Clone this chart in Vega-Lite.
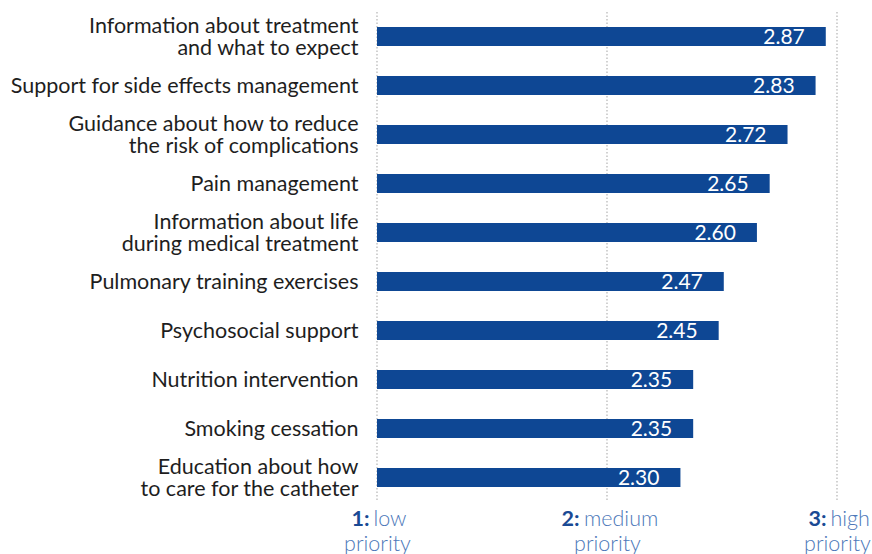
{
  "$schema": "https://vega.github.io/schema/vega-lite/v6.json",
  "width": 460,
  "height": 490,
  "autosize": {"type": "none"},
  "padding": {"left": 377, "top": 12, "right": 35, "bottom": 52},
  "config": {"view": {"stroke": null}, "font": "Lato"},
  "datasets": {
    "levels": [
      {"level": 1, "word": "low"},
      {"level": 2, "word": "medium"},
      {"level": 3, "word": "high"}
    ],
    "items": [
      {"label": "Information about treatment\nand what to expect", "score": 2.87},
      {"label": "Support for side effects management", "score": 2.83},
      {"label": "Guidance about how to reduce\nthe risk of complications", "score": 2.72},
      {"label": "Pain management", "score": 2.65},
      {"label": "Information about life\nduring medical treatment", "score": 2.60},
      {"label": "Pulmonary training exercises", "score": 2.47},
      {"label": "Psychosocial support", "score": 2.45},
      {"label": "Nutrition intervention", "score": 2.35},
      {"label": "Smoking cessation", "score": 2.35},
      {"label": "Education about how\nto care for the catheter", "score": 2.30}
    ]
  },
  "layer": [
    {
      "data": {"name": "levels"},
      "mark": {"type": "rule", "color": "#b4b4b4", "strokeDash": [1.5, 2], "strokeWidth": 1.2},
      "encoding": {
        "x": {
          "field": "level", "type": "quantitative",
          "scale": {"domain": [1, 3], "nice": false, "zero": false},
          "axis": {
            "orient": "bottom", "values": [1, 2, 3], "ticks": false, "domain": false, "grid": false,
            "title": null, "labelExpr": "datum.value + ':'",
            "labelFont": "Lato", "labelFontSize": 21.5, "labelFontWeight": "bold", "labelColor": "#1a4a94",
            "labelAlign": "right", "labelBaseline": "top", "labelPadding": 6, "tickSize": 0,
            "labelOffset": {"condition": [{"test": "datum.value == 1", "value": -8}, {"test": "datum.value == 2", "value": -28}], "value": -11},
            "labelFlush": false, "labelOverlap": false, "labelBound": false
          }
        }
      }
    },
    {
      "data": {"name": "levels"},
      "mark": {"type": "rule", "opacity": 0},
      "encoding": {
        "x": {
          "field": "level", "type": "quantitative",
          "scale": {"domain": [1, 3], "nice": false, "zero": false},
          "axis": {
            "orient": "bottom", "values": [1, 2, 3], "ticks": false, "domain": false, "grid": false,
            "title": null,
            "labelExpr": "datum.value == 1 ? 'low' : datum.value == 2 ? 'medium' : 'high'",
            "labelFont": "Lato", "labelFontSize": 21.5, "labelFontWeight": 300, "labelColor": "#4d78b9",
            "labelAlign": "left", "labelBaseline": "top", "labelPadding": 6, "tickSize": 0,
            "labelOffset": {"condition": [{"test": "datum.value == 1", "value": -4}, {"test": "datum.value == 2", "value": -23.5}], "value": -7},
            "labelFlush": false, "labelOverlap": false, "labelBound": false
          }
        }
      }
    },
    {
      "data": {"name": "levels"},
      "mark": {"type": "rule", "opacity": 0},
      "encoding": {
        "x": {
          "field": "level", "type": "quantitative",
          "scale": {"domain": [1, 3], "nice": false, "zero": false},
          "axis": {
            "orient": "bottom", "values": [1, 2, 3], "ticks": false, "domain": false, "grid": false,
            "title": null,
            "labelExpr": "'priority'",
            "labelFont": "Lato", "labelFontSize": 21.5, "labelFontWeight": 300, "labelColor": "#4d78b9",
            "labelAlign": "center", "labelBaseline": "top", "labelPadding": 31, "tickSize": 0,
            "labelFlush": false, "labelOverlap": false, "labelBound": false
          }
        }
      }
    },
    {
      "data": {"name": "items"},
      "encoding": {
        "y": {
          "field": "label", "type": "nominal", "sort": null,
          "scale": {"paddingInner": 0.61, "paddingOuter": 0.305},
          "axis": {
            "title": null, "ticks": false, "domain": false, "labelPadding": 19,
            "labelExpr": "split(datum.label, '\\n')",
            "labelOffset": {"condition": {"test": "indexof(datum.label, '\\n') >= 0", "value": -9.5}, "value": 1.5},
            "labelFont": "Lato", "labelFontSize": 21.5, "labelColor": "#1e1e1e", "labelLineHeight": 22,
            "labelLimit": 400
          }
        },
        "x": {
          "field": "score", "type": "quantitative",
          "scale": {"domain": [1.11, 2.914], "nice": false, "zero": false, "clamp": true},
          "axis": null
        }
      },
      "layer": [
        {"mark": {"type": "bar", "color": "#0e4794"}},
        {
          "mark": {"type": "text", "align": "right", "baseline": "middle", "dx": -21, "dy": 1, "color": "white", "font": "Lato", "fontSize": 21},
          "encoding": {"text": {"field": "score", "type": "quantitative", "format": ".2f"}}
        }
      ]
    }
  ],
  "resolve": {"scale": {"x": "independent"}, "axis": {"x": "independent"}}
}
